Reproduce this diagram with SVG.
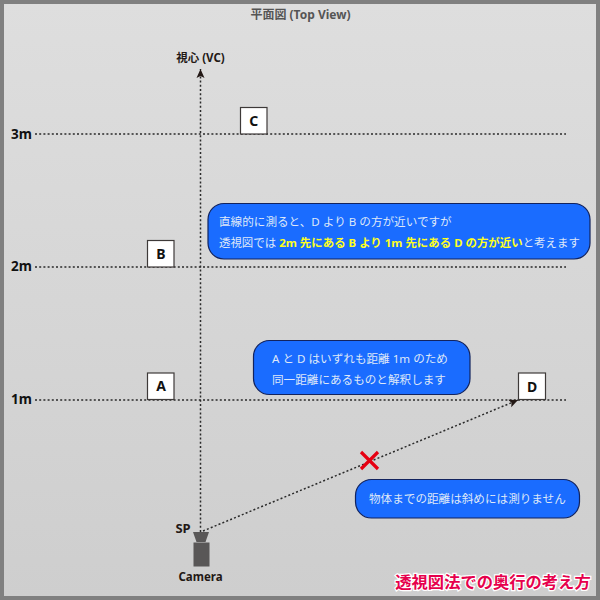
<svg xmlns="http://www.w3.org/2000/svg" width="600" height="600" viewBox="0 0 600 600">
<style>
text{font-family:"Noto Sans","Noto Sans CJK JP",sans-serif}
.dot{fill:none;stroke:#2a2a2a;stroke-width:1.5;stroke-dasharray:2 2.2}
.box{fill:#fff;stroke:#3e3a39;stroke-width:1.2}
.lab{font-size:14px;font-weight:700;fill:#111;text-anchor:middle}
.m{font-size:13.5px;font-weight:700;fill:#111;text-anchor:middle}
.blue{fill:#1a6cff;stroke:#12235e;stroke-width:1.2}
.t{font-size:11.6px;fill:#dfe8f8}
.y{fill:#ffff1e;font-weight:700}
.c{font-size:11.5px;font-weight:700;fill:#231815;text-anchor:middle}
</style>
<defs>
<linearGradient id="bg" x1="0" y1="0" x2="0" y2="1"><stop offset="0" stop-color="#dedede"/><stop offset="1" stop-color="#cecece"/></linearGradient>
<marker id="arr" markerUnits="userSpaceOnUse" markerWidth="10" markerHeight="10" refX="9" refY="5" orient="auto"><path d="M0 1L9 5L0 9L2 5Z" fill="#231815"/></marker>
</defs>
<rect x="2" y="2" width="596" height="596" fill="url(#bg)" stroke="#808080" stroke-width="4"/>
<text x="300.500" y="19" font-size="12" font-weight="700" fill="#555" text-anchor="middle">平面図 (Top View)</text>
<g id="connectors">
<path class="dot" d="M35 134H566M35 267H566M35 400H566"/>
<path class="dot" d="M200.500 532V69" marker-end="url(#arr)"/>
<path class="dot" d="M203 531L518 400" marker-end="url(#arr)"/>
</g>
<text class="c" x="200.500" y="62">視心 (VC)</text>
<text class="m" x="21.500" y="139">3m</text>
<text class="m" x="21.500" y="271">2m</text>
<text class="m" x="21.500" y="404">1m</text>
<g id="node-c"><rect class="box" x="240.500" y="107.500" width="26.500" height="26.500"/><text class="lab" x="253.700" y="126">C</text></g>
<g id="node-b"><rect class="box" x="147.500" y="240.500" width="26.500" height="26.500"/><text class="lab" x="161" y="259">B</text></g>
<g id="node-a"><rect class="box" x="147.500" y="373" width="26.500" height="26.500"/><text class="lab" x="161" y="391">A</text></g>
<g id="node-d"><rect class="box" x="518.500" y="373" width="27" height="26.500"/><text class="lab" x="532" y="392">D</text></g>
<g id="note-1"><rect class="blue" x="208" y="203.500" width="382" height="55.500" rx="16"/>
<text class="t" x="219" y="226">直線的に測ると、D より B の方が近いですが</text>
<text class="t" x="219" y="247" style="font-size:11.450px">透視図では <tspan class="y">2m 先にある B より 1m 先にある D の方が近い</tspan>と考えます</text></g>
<g id="note-2"><rect class="blue" x="253.500" y="340.500" width="216.500" height="54" rx="16"/>
<text class="t" x="272" y="363">A と D はいずれも距離 1m のため</text>
<text class="t" x="272" y="384">同一距離にあるものと解釈します</text></g>
<g id="note-3"><rect class="blue" x="355.500" y="479.500" width="224" height="38.500" rx="16"/>
<text class="t" x="369" y="503">物体までの距離は斜めには測りません</text></g>
<g id="cross"><path d="M361 452L378 469M378 452L361 469" stroke="#e60012" stroke-width="3.200" fill="none"/></g>
<g id="camera"><path d="M193 532H209L205.500 542H196.500Z" fill="#595757"/><rect x="193.500" y="542.500" width="16" height="24" fill="#595757"/>
<text class="c" x="183" y="533" style="font-size:13px">SP</text><text class="c" x="200.500" y="581">Camera</text></g>
<text x="493" y="588" font-size="16.300" font-weight="700" fill="#e6004c" stroke="#fff" stroke-width="2.500" paint-order="stroke" text-anchor="middle">透視図法での奥行の考え方</text>
</svg>
